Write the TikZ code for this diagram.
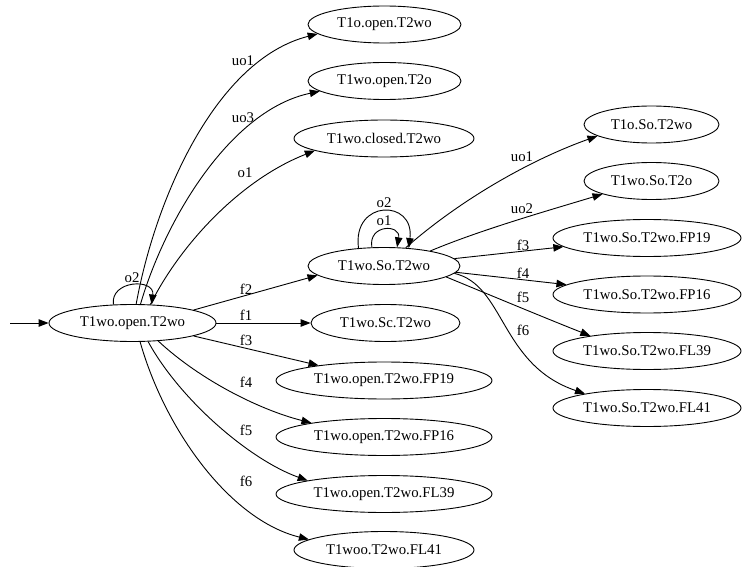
\documentclass[tikz,border=0pt]{standalone}
\usepackage{fontspec}
\setmainfont{Liberation Serif}
\usetikzlibrary{shapes.geometric,arrows.meta}
\begin{document}
\begin{tikzpicture}[x=1pt,y=-1pt,
  state/.style={ellipse,draw,line width=0.9pt,minimum height=37pt,inner sep=0pt,
    font=\fontsize{14.8}{17}\selectfont},
  edge/.style={line width=0.9pt,-{Triangle[length=10pt,width=7.5pt]}},
  lbl/.style={font=\fontsize{14.8}{17}\selectfont,inner sep=0pt}]
\useasboundingbox (0,0) rectangle (742,567);

% states
\node[state,minimum width=167pt] (open)   at (132.5,323) {T1wo.open.T2wo};
\node[state,minimum width=153pt] (oopen)  at (384.5,24.5) {T1o.open.T2wo};
\node[state,minimum width=153pt] (opento) at (384.5,81) {T1wo.open.T2o};
\node[state,minimum width=180pt] (closed) at (384,138.5) {T1wo.closed.T2wo};
\node[state,minimum width=152pt] (so)     at (384,266) {T1wo.So.T2wo};
\node[state,minimum width=149pt] (sc)     at (385.5,323) {T1wo.Sc.T2wo};
\node[state,minimum width=216pt] (ofp19)  at (384,380.5) {T1wo.open.T2wo.FP19};
\node[state,minimum width=216pt] (ofp16)  at (384,437) {T1wo.open.T2wo.FP16};
\node[state,minimum width=216pt] (ofl39)  at (384,494) {T1wo.open.T2wo.FL39};
\node[state,minimum width=180pt] (ofl41)  at (384,550) {T1woo.T2wo.FL41};
\node[state,minimum width=135pt] (soo)    at (651.5,124.5) {T1o.So.T2wo};
\node[state,minimum width=135pt] (sot2o)  at (651.5,181) {T1wo.So.T2o};
\node[state,minimum width=188pt] (sfp19)  at (647,238) {T1wo.So.T2wo.FP19};
\node[state,minimum width=188pt] (sfp16)  at (647,294.5) {T1wo.So.T2wo.FP16};
\node[state,minimum width=188pt] (sfl39)  at (647,351) {T1wo.So.T2wo.FL39};
\node[state,minimum width=188pt] (sfl41)  at (647,408) {T1wo.So.T2wo.FL41};

% initial arrow
\coordinate (init) at (10,323);
\draw[edge] (init) -- (open.west);

% transitions out of T1wo.open.T2wo
\draw[edge] (open.79) .. controls (155,200) and (215,60) .. (oopen.188);
\draw[edge] (open.67) .. controls (165,220) and (230,110) .. (opento.189);
\draw[edge] (open.46) .. controls (180,245) and (240,180) .. (closed.190);
\draw[edge] (open.136) .. controls (110,280) and (155,278) .. (open.44);
\draw[edge] (open.12) -- (so.188);
\draw[edge] (open.east) -- (sc.west);
\draw[edge] (open.-12) -- (ofp19.167);
\draw[edge] (open.-35) .. controls (200,380) and (260,410) .. (ofp16.169);
\draw[edge] (open.-50) .. controls (180,400) and (250,460) .. (ofl39.170);
\draw[edge] (open.-68) .. controls (165,430) and (230,520) .. (ofl41.172);

\node[lbl] (l-uo1) at (243,61) {uo1};
\node[lbl] (l-uo3) at (243,118) {uo3};
\node[lbl] (l-o1)  at (245,173) {o1};
\node[lbl] (l-o2)  at (132,278) {o2};
\node[lbl] (l-f2)  at (246,289) {f2};
\node[lbl] (l-f1)  at (246,315) {f1};
\node[lbl] (l-f3)  at (246,340) {f3};
\node[lbl] (l-f4)  at (246,382) {f4};
\node[lbl] (l-f5)  at (246,430) {f5};
\node[lbl] (l-f6)  at (246,481) {f6};

% transitions out of T1wo.So.T2wo
\draw[edge] (so.123) .. controls (368,224) and (401,224) .. (so.55);
\draw[edge] (so.145) .. controls (352,199) and (415,199) .. (so.36);
\draw[edge] (so.40) .. controls (460,200) and (530,160) .. (soo.192);
\draw[edge] (so.18) .. controls (480,230) and (550,210) .. (sot2o.195);
\draw[edge] (so.6) -- (sfp19.186);
\draw[edge] (so.-5) -- (sfp16.173);
\draw[edge] (so.-10) .. controls (490,295) and (550,320) .. (sfl39.165);
\draw[edge] (so.-6) .. controls (505,285) and (500,365) .. (sfl41.167);

\node[lbl] (s-o2)  at (384,203) {o2};
\node[lbl] (s-o1)  at (384,221) {o1};
\node[lbl] (s-uo1) at (522,157) {uo1};
\node[lbl] (s-uo2) at (522,209) {uo2};
\node[lbl] (s-f3)  at (523,245) {f3};
\node[lbl] (s-f4)  at (523,273) {f4};
\node[lbl] (s-f5)  at (523,297) {f5};
\node[lbl] (s-f6)  at (523,330) {f6};
\end{tikzpicture}
\end{document}
